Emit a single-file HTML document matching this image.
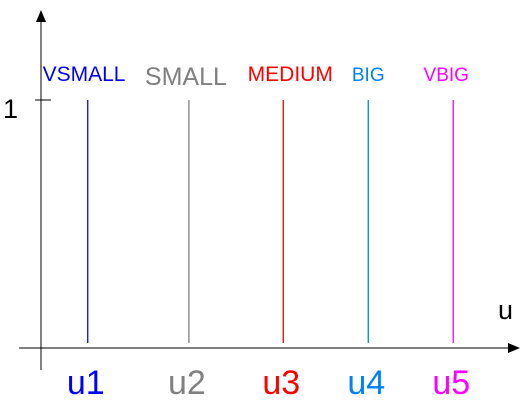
<!DOCTYPE html>
<html><head><meta charset="utf-8"><style>
html,body{margin:0;padding:0;background:#fff;}
svg{display:block;font-family:"Liberation Sans",Arial,sans-serif;}
</style></head><body>
<svg id="chart" width="521" height="406" viewBox="0 0 521 406" xmlns="http://www.w3.org/2000/svg">
  <line x1="41" y1="370" x2="41" y2="18" stroke="#000" stroke-width="1"/>
  <polygon points="41,10 36,22 46,22" fill="#000"/>
  <line x1="19" y1="348" x2="510" y2="348" stroke="#000" stroke-width="1"/>
  <polygon points="520,348 508,343 508,353" fill="#000"/>
  <line x1="35" y1="100" x2="51" y2="100" stroke="#000" stroke-width="1"/>
  <text x="3" y="118" font-size="27" fill="#000">1</text>
  <text x="498" y="319" font-size="27" fill="#000">u</text>
  <g id="marks"></g>
</svg>
<script>
const categories = ["VSMALL","SMALL","MEDIUM","BIG","VBIG"];
const tickLabels = ["u1","u2","u3","u4","u5"];
const positions = [0.55, 1.74, 2.85, 3.85, 4.85];
const memberships = [1, 1, 1, 1, 1];
const colors = ["#0000ff","#808080","#ff0000","#0080ff","#ff00ff"];
const topSizes = [21, 25, 21, 19, 19];
const NS = "http://www.w3.org/2000/svg";
function xScale(v){ return 41 + v * 85; }
function yScale(v){ return 343 - v * 243; }
const g = document.getElementById("marks");
for (let i = 0; i < categories.length; i++) {
  const x = xScale(positions[i]);
  const ln = document.createElementNS(NS, "line");
  
  
  ln.setAttribute("x1", x); ln.setAttribute("x2", x);
  ln.setAttribute("y1", yScale(0)); ln.setAttribute("y2", yScale(memberships[i]));
  ln.setAttribute("stroke", colors[i]); ln.setAttribute("stroke-width", "1.3");
  g.appendChild(ln);
  const t = document.createElementNS(NS, "text");
  
  
  t.setAttribute("x", i === 0 ? 84 : x + (i === 1 ? -3 : i === 2 ? 7 : i === 4 ? -7 : 0));
  t.setAttribute("y", i === 1 ? 85 : 81);
  t.setAttribute("text-anchor", "middle");
  t.setAttribute("font-size", topSizes[i] + "px");
  t.setAttribute("fill", colors[i]);
  t.textContent = categories[i];
  g.appendChild(t);
  const b = document.createElementNS(NS, "text");
  
  
  b.setAttribute("x", x - 2);
  b.setAttribute("y", 394);
  b.setAttribute("text-anchor", "middle");
  b.setAttribute("font-size", "34px");
  b.setAttribute("fill", colors[i]);
  b.textContent = tickLabels[i];
  g.appendChild(b);
}
</script>
</body></html>
